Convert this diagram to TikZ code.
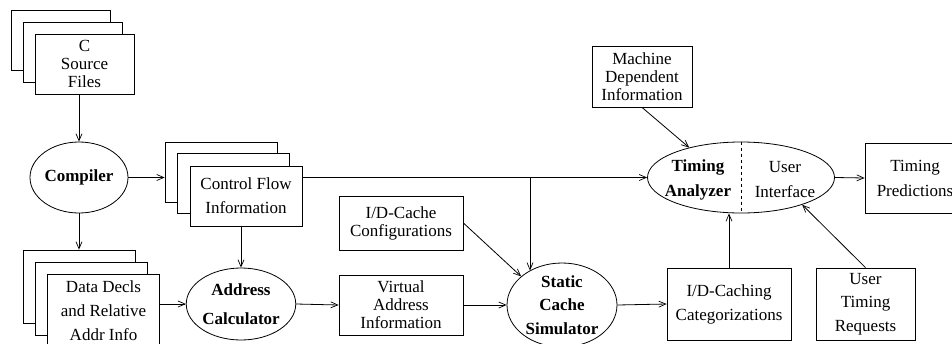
\documentclass[tikz,border=0pt]{standalone}
\usepackage{fontspec}
\setmainfont{Liberation Serif}
\usetikzlibrary{arrows.meta,shapes.geometric}

\tikzset{
  lh/.style={font=\fontsize{17}{#1}\selectfont},
  box/.style={draw, fill=white, rectangle, inner sep=0pt, align=center, line width=0.8pt},
  oval/.style={draw, fill=white, ellipse, inner sep=0pt, align=center, line width=0.8pt},
  flow/.style={-{Straight Barb[length=7pt,width=6pt,line width=0.7pt]}, line width=0.8pt},
}

\begin{document}
\begin{tikzpicture}[x=1pt, y=-1pt]
\useasboundingbox (0,0) rectangle (952,343);
\clip (0,0) rectangle (952,343);

% C source files (stack of three pages)
\node[box, minimum width=99pt, minimum height=60pt] (src3) at (60.5,40) {};
\node[box, minimum width=99pt, minimum height=60pt] (src2) at (72.5,52) {};
\node[box, minimum width=99pt, minimum height=60pt, lh=18pt] (src1) at (84.5,64) {C\\Source\\Files};

% compiler
\node[oval, minimum width=98pt, minimum height=71pt, lh=18pt] (comp) at (79,177.5) {\bfseries Compiler};

% control flow information (stack)
\node[box, minimum width=112pt, minimum height=60pt] (cf3) at (221,172) {};
\node[box, minimum width=112pt, minimum height=60pt] (cf2) at (233.5,183.5) {};
\node[box, minimum width=112pt, minimum height=60pt, lh=24pt] (cf1) at (246,196) {Control Flow\\Information};

% data declarations (stack)
\node[box, minimum width=112pt, minimum height=73pt] (dd3) at (79,286.5) {};
\node[box, minimum width=112pt, minimum height=73pt] (dd2) at (91,298.5) {};
\node[box, minimum width=112pt, minimum height=73pt, lh=24pt] (dd1) at (103.5,310.5) {Data Decls\\and Relative\\Addr Info};

% address calculator
\node[oval, minimum width=102pt, minimum height=72pt, lh=29pt] (ac) at (241,304) {\bfseries Address\\\bfseries Calculator};

% cache configuration and virtual addresses
\node[box, minimum width=124pt, minimum height=54pt, lh=18pt] (conf) at (401,223) {I/D-Cache\\Configurations};
\node[box, minimum width=124pt, minimum height=60pt, lh=18pt] (virt) at (401,305) {Virtual\\Address\\Information};

% static cache simulator
\node[oval, minimum width=110pt, minimum height=84pt, lh=23.5pt] (ss) at (562,305) {\bfseries Static\\\bfseries Cache\\\bfseries Simulator};

% timing analyzer with user interface
\node[oval, minimum width=187pt, minimum height=71pt] (ta) at (741,177.5) {};
\draw[dashed, line width=0.8pt] (ta.north) -- (ta.south);
\node[lh=25pt, align=center, inner sep=0pt] (tal) at (698,179.5) {\bfseries Timing\\\bfseries Analyzer};
\node[lh=25pt, align=center, inner sep=0pt] (tar) at (785,179.5) {User\\Interface};

% remaining boxes
\node[box, minimum width=100pt, minimum height=61pt, lh=18pt] (mach) at (642,76.5) {Machine\\Dependent\\Information};
\node[box, minimum width=100pt, minimum height=70pt, lh=25pt] (pred) at (915,178) {Timing\\Predictions};
\node[box, minimum width=124pt, minimum height=72pt, lh=24pt] (cat) at (729,304) {I/D-Caching\\Categorizations};
\node[box, minimum width=99pt, minimum height=72pt, lh=23.5pt] (user) at (865.5,304) {User\\Timing\\Requests};

% connectors
\draw[flow] (src1.south -| comp.north) -- (comp.north);
\draw[flow] (comp.east) -- (comp.east -| cf3.west);
\draw[flow] (comp.south) -- (comp.south |- dd3.north);
\draw[flow] (ac.north |- cf1.south) -- (ac.north);
\draw[flow] (dd1.east |- ac.west) -- (ac.west);
\draw[flow] (ac.east) -- (virt.west);
\draw[flow] (virt.east) -- (ss.west);
\draw[flow] (conf.east) -- (ss.145);
\draw[flow] (cf1.east |- ta.west) -- (ta.west);
\coordinate (j) at (530,177.5);
\draw[flow] (j) -- (j |- ss.133);
\draw[flow] (ss.east) -- (cat.west);
\draw[flow] (cat.north) -- (cat.north |- ta.south);
\draw[flow] (user.north) -- (ta.-24);
\draw[flow] (mach.south) -- (ta.150);
\draw[flow] (ta.east) -- (pred.west);
\end{tikzpicture}
\end{document}
